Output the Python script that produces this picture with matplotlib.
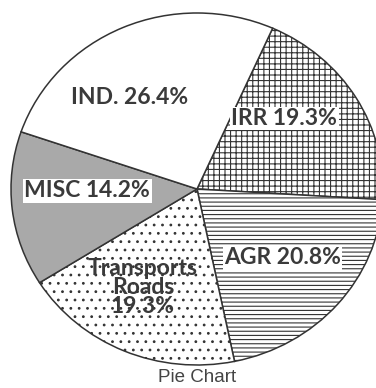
import matplotlib
matplotlib.use("Agg")
import matplotlib.pyplot as plt

# sector shares (%), clockwise from the upper right
sectors = ["IRR", "AGR", "Transports\nRoads", "MISC", "IND."]
shares = [19.3, 20.8, 19.3, 14.2, 26.4]
labels = ["IRR 19.3%", "AGR 20.8%", "Transports\nRoads\n19.3%", "MISC 14.2%", "IND. 26.4%"]

fills = ["white", "white", "white", "#a9a9a9", "white"]
hatches = ["+++", "----", "..", "", ""]
label_xy = [(0.47, 0.40), (0.46, -0.39), (-0.29, -0.56), (-0.59, -0.01), (-0.36, 0.52)]
boxed = [True, True, False, True, False]

plt.rcParams["hatch.linewidth"] = 0.8

fig = plt.figure(figsize=(3.76, 3.88), dpi=100)
ax = fig.add_axes([0, 0, 1, 1])

wedges, _ = ax.pie(shares, startangle=66, counterclock=False, radius=1,
                   colors=fills,
                   wedgeprops=dict(edgecolor="#333333", linewidth=1.1))
for w, h in zip(wedges, hatches):
    w.set_hatch(h)

# slightly wider than tall, as printed
ax.set_aspect("auto")
ax.set_xlim(-197 / 186, 179 / 186)
ax.set_ylim(-199 / 176, 189 / 176)
ax.axis("off")

for txt, (x, y), b in zip(labels, label_xy, boxed):
    kw = {}
    if b:
        kw["bbox"] = dict(boxstyle="square,pad=0.06", facecolor="white", edgecolor="none")
    ax.text(x, y, txt, ha="center", va="center", fontsize=16.5, fontweight="bold",
            family="Lato", color="#3a3a3a", linespacing=0.9, **kw)

fig.text(0.524, 0.027, "Pie Chart", ha="center", va="center", fontsize=13.5,
         family="Liberation Sans", color="#444444")

fig.savefig("out.png", dpi=100)
